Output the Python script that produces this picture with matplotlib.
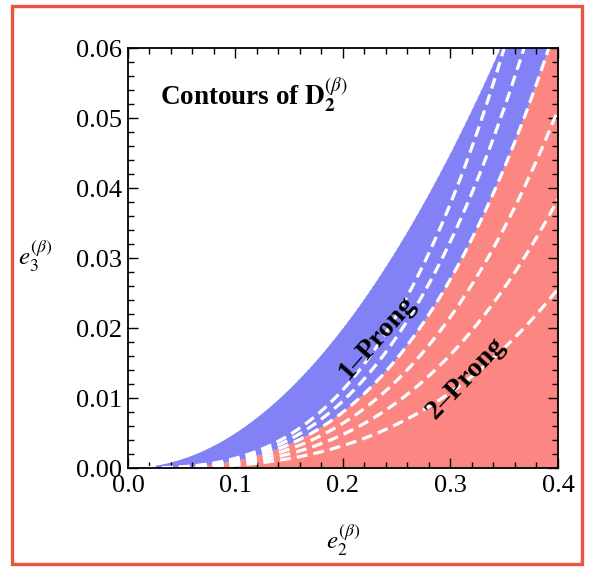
import matplotlib
matplotlib.use("Agg")
import matplotlib.pyplot as plt
import matplotlib.patches as patches
import numpy as np

# values
contour_levels = [0.4, 0.6, 0.8, 1.0, 1.2, 1.4]   # D2 contours drawn dashed
prong_split = 1.0                                  # D2 value between 2-prong (below) and 1-prong (above)
upper_coeff = 0.5                                  # physical limit e3 <= upper_coeff * e2^2
x_ticks = [0.0, 0.1, 0.2, 0.3, 0.4]
y_ticks = [0.00, 0.01, 0.02, 0.03, 0.04, 0.05, 0.06]
x_range = (0.0, 0.4)
y_range = (0.0, 0.06)

blue = '#8282f6'
red = '#fb8682'
frame_red = '#e9563c'

plt.rcParams['font.family'] = ['Liberation Serif', 'DejaVu Serif']
plt.rcParams['mathtext.fontset'] = 'stix'

# grid for D2 = e3 / e2^3 (finer near e3 = 0 where the contours bunch up)
e2 = np.linspace(1e-4, x_range[1], 900)
e3 = y_range[1] * np.linspace(0, 1, 900) ** 2
E2, E3 = np.meshgrid(e2, e3)
D2 = E3 / E2 ** 3
D2 = np.ma.masked_where(E3 > upper_coeff * E2 ** 2, D2)

fig = plt.figure(figsize=(5.89, 5.70), dpi=100)
ax = fig.add_axes([0.2173, 0.1789, 0.730, 0.7368])

ax.contourf(E2, E3, D2, levels=[0, prong_split, 1e12], colors=[red, blue], antialiased=True)
cs = ax.contour(E2, E3, D2, levels=contour_levels, colors='white', linewidths=2.3)
cs.set_linestyle((0, (3.4, 1.9)))

ax.set_xlim(*x_range)
ax.set_ylim(*y_range)
ax.set_xticks(x_ticks)
ax.set_yticks(y_ticks)
ax.set_xticklabels(['%.1f' % v for v in x_ticks])
ax.set_yticklabels(['%.2f' % v for v in y_ticks])
ax.set_xticks(np.arange(0, 0.4001, 0.02), minor=True)
ax.set_yticks(np.arange(0, 0.06001, 0.002), minor=True)
ax.tick_params(which='both', direction='in', top=True, right=True, width=1.0, colors='black')
ax.tick_params(which='major', length=7, labelsize=19)
ax.tick_params(axis='x', which='major', pad=5)
ax.tick_params(axis='y', which='major', pad=4)
ax.tick_params(which='minor', length=4)
for s in ax.spines.values():
    s.set_linewidth(1.3)

ax.set_xlabel(r'$e_2^{(\beta)}$', fontsize=18)
ax.xaxis.set_label_coords(0.5, -0.13)
ax.set_ylabel(r'$e_3^{(\beta)}$', fontsize=18, rotation=0, ha='center', va='center')
ax.yaxis.set_label_coords(-0.215, 0.505)

ax.text(0.03, 0.0533, r'Contours of $\mathbf{D}_{\mathbf{2}}^{(\beta)}$', fontsize=19.5,
        fontweight='bold', ha='left', va='center')
ax.text(0.2316, 0.0186, '1\u2013Prong', fontsize=20.5, fontweight='bold', rotation=48.5,
        rotation_mode='anchor', ha='center', va='center')
ax.text(0.3144, 0.0129, '2\u2013Prong', fontsize=20.5, fontweight='bold', rotation=46.5,
        rotation_mode='anchor', ha='center', va='center')

# orange frame round the whole picture
fig.patches.append(patches.Rectangle((12 / 589, 1 - 564 / 570), 570 / 589, 558 / 570,
                                     transform=fig.transFigure, fill=False,
                                     edgecolor=frame_red, linewidth=2.4))

fig.savefig('out.png', dpi=100)
